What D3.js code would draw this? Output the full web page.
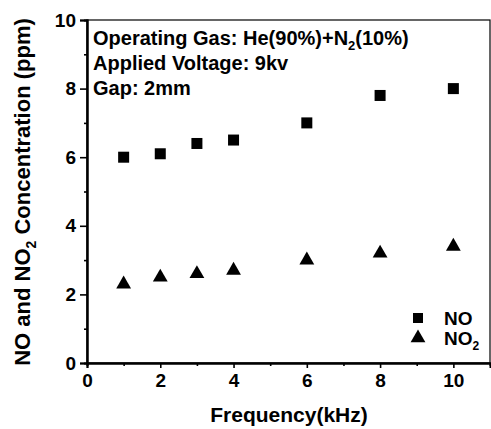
<!DOCTYPE html>
<html>
<head>
<meta charset="utf-8">
<script src="https://cdn.jsdelivr.net/npm/d3@7"></script>
<style>
  body { margin: 0; background: #fff; }
  text { font-family: "Liberation Sans", Arial, sans-serif; font-weight: bold; fill: #000; }
</style>
</head>
<body>
<div id="chart"></div>
<script>
// data
var freq = [1, 2, 3, 4, 6, 8, 10];
var noVals = [6.0, 6.1, 6.4, 6.5, 7.0, 7.8, 8.0];
var no2Vals = [2.3, 2.5, 2.6, 2.7, 3.0, 3.2, 3.4];
var xTicks = [0, 2, 4, 6, 8, 10];
var yTicks = [0, 2, 4, 6, 8, 10];
var notes = ['Operating Gas: He(90%)+N', 'Applied Voltage: 9kv', 'Gap: 2mm'];

var W = 491, H = 429;
var margin = {top: 20, right: 1, bottom: 66, left: 87};
var w = W - margin.left - margin.right;
var h = H - margin.top - margin.bottom;

var svg = d3.select('#chart').append('svg')
    .attr('width', W).attr('height', H);
var g = svg.append('g')
    .attr('transform', 'translate(' + margin.left + ',' + margin.top + ')');

var x = d3.scaleLinear().domain([0, 11]).range([0, w]);
var y = d3.scaleLinear().domain([0, 10]).range([h, 0]);

// frame
g.append('rect').attr('width', w).attr('height', h)
    .attr('fill', 'none').attr('stroke', '#000').attr('stroke-width', 1.2);

// minor ticks
var xAxisMinor = d3.axisBottom(x).tickValues(d3.range(1, 11, 2)).tickSize(3).tickFormat('');
var yAxisMinor = d3.axisLeft(y).tickValues(d3.range(1, 10, 2)).tickSize(3).tickFormat('');
g.append('g').attr('transform', 'translate(0,' + h + ')').call(xAxisMinor);
g.append('g').call(yAxisMinor);

// major axes
var xAxis = g.append('g').attr('transform', 'translate(0,' + h + ')')
    .call(d3.axisBottom(x).tickValues(xTicks).tickSize(5).tickPadding(6));
var yAxis = g.append('g')
    .call(d3.axisLeft(y).tickValues(yTicks).tickSize(7).tickPadding(4));

g.selectAll('.domain').attr('stroke-width', 2);
g.selectAll('.tick line').attr('stroke-width', 1.6);
xAxis.selectAll('text').style('font-size', '19px');
yAxis.selectAll('text').style('font-size', '19px');

// markers
var sq = 11;
g.selectAll('.no').data(freq).enter().append('rect')
    .attr('x', function(d) { return x(d) - sq / 2; })
    .attr('y', function(d, i) { return y(noVals[i]) - sq / 2; })
    .attr('width', sq).attr('height', sq).attr('fill', '#000');

var tri = d3.symbol().type(d3.symbolTriangle).size(95);
g.selectAll('.no2').data(freq).enter().append('path')
    .attr('d', tri)
    .attr('transform', function(d, i) { return 'translate(' + x(d) + ',' + y(no2Vals[i]) + ')'; })
    .attr('fill', '#000');

// annotation
var note = g.append('g').style('font-size', '20px');
notes.forEach(function(t, i) {
    var tx = note.append('text').attr('x', 6).attr('y', 25 + i * 25).text(t);
    if (i === 0) {
        tx.append('tspan').attr('dy', 5).style('font-size', '13px').text('2');
        tx.append('tspan').attr('dy', -5).text('(10%)');
    }
});

// legend
var lg = g.append('g').style('font-size', '19px');
lg.append('rect').attr('x', 331 - 5).attr('y', 298 - 5).attr('width', 10).attr('height', 10);
lg.append('text').attr('x', 357).attr('y', 305).text('NO');
lg.append('path').attr('d', tri).attr('transform', 'translate(331,318)');
var t2 = lg.append('text').attr('x', 357).attr('y', 325).text('NO');
t2.append('tspan').attr('dy', 5).style('font-size', '12px').text('2');

// axis titles
svg.append('text').attr('x', 289).attr('y', 422)
    .attr('text-anchor', 'middle').style('font-size', '21px').text('Frequency(kHz)');

var yl = svg.append('text')
    .attr('transform', 'translate(30,' + 192 + ') rotate(-90)')
    .attr('text-anchor', 'middle').style('font-size', '22px');
yl.append('tspan').text('NO and NO');
yl.append('tspan').attr('dy', 6).style('font-size', '14px').text('2');
yl.append('tspan').attr('dy', -6).text(' Concentration (ppm)');
</script>
</body>
</html>
